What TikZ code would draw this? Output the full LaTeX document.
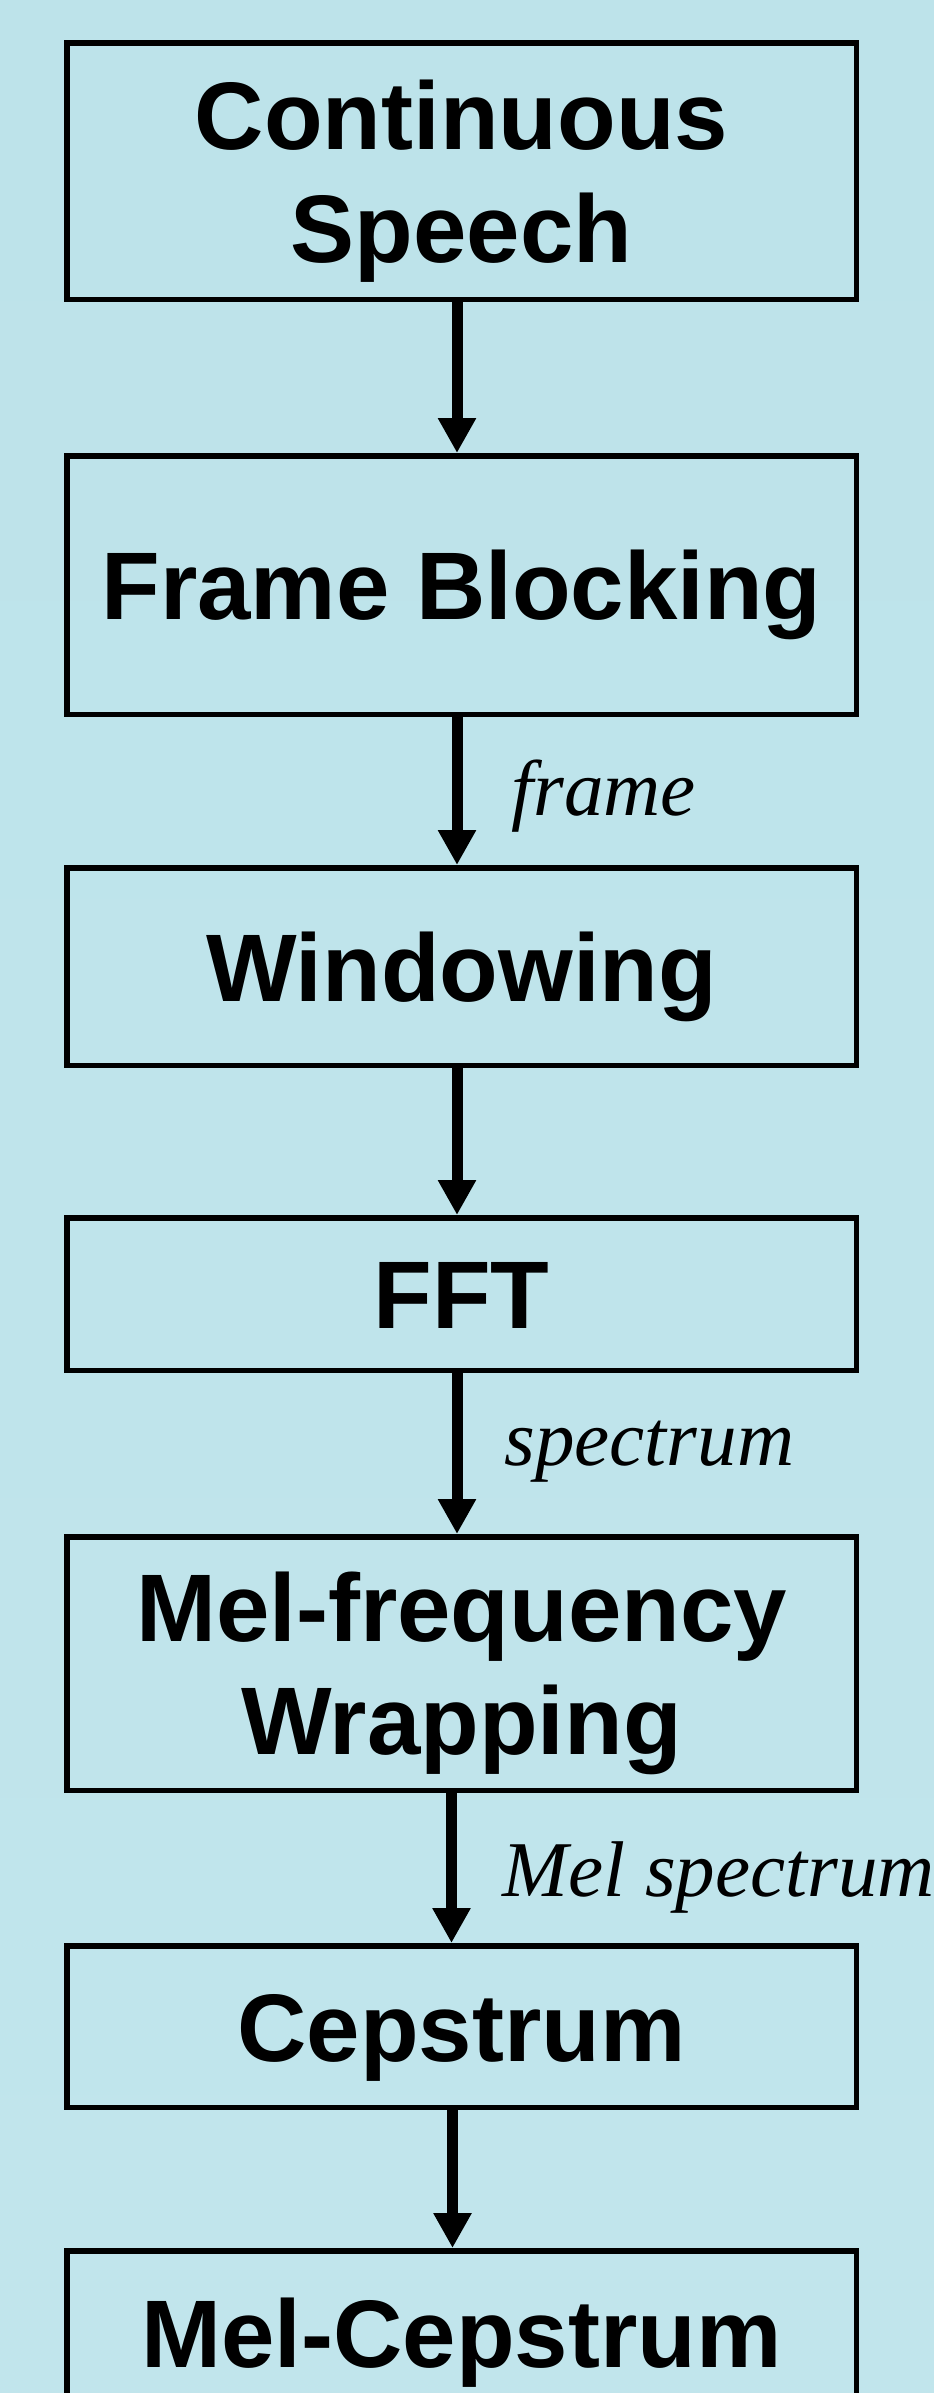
\documentclass[tikz,border=0pt]{standalone}
\usepackage{fontspec}
\setmainfont{Liberation Sans}
\newfontfamily\labelfont{Liberation Serif}
\usetikzlibrary{arrows.meta}
\definecolor{bgtop}{RGB}{189,227,234}
\definecolor{bgmid}{RGB}{178,221,230}
\definecolor{bgbot}{RGB}{193,229,236}
\tikzset{
  stepbox/.style={draw=black, line width=5.5pt, rectangle, inner sep=0pt,
    minimum width=789.5pt, font=\fontsize{96}{113}\selectfont\bfseries,
    text height=69pt, text depth=0pt},
  twoline/.style={text height=, text depth=},
  flow/.style={line width=11pt, -{Triangle[width=36pt,length=35pt]}},
  flowlabel/.style={inner sep=0pt, anchor=base west,
    font=\labelfont\itshape\fontsize{79}{90}\selectfont}
}
\newcommand{\twolines}[2]{\raisebox{0pt}[69pt][113pt]{\begin{tabular}[t]{@{}c@{}}#1\\#2\end{tabular}}}
\begin{document}
\begin{tikzpicture}[x=1pt,y=-1pt]
  \useasboundingbox (0,0) rectangle (934,2393);
  \shade[top color=bgtop, middle color=bgmid, bottom color=bgbot] (0,0) rectangle (934,2393);

  \node[stepbox, twoline, minimum height=256.5pt] (b1) at (461.5,171) {\twolines{Continuous}{Speech}};
  \node[stepbox, minimum height=258.5pt] (b2) at (461.5,585) {Frame Blocking};
  \node[stepbox, minimum height=197.5pt] (b3) at (461.5,966.5) {Windowing};
  \node[stepbox, minimum height=152.5pt] (b4) at (461.5,1294) {FFT};
  \node[stepbox, twoline, minimum height=253.5pt] (b5) at (461.5,1663.5) {\twolines{Mel-frequency}{Wrapping}};
  \node[stepbox, minimum height=161.5pt] (b6) at (461.5,2026.5) {Cepstrum};
  \node[stepbox, minimum height=164.5pt] (b7) at (461.5,2333) {Mel-Cepstrum};

  \draw[flow] ([xshift=-4.5pt]b1.south) -- ([xshift=-4.5pt]b2.north);
  \draw[flow] ([xshift=-4.5pt]b2.south) -- ([xshift=-4.5pt]b3.north)
     node[flowlabel, midway, xshift=49pt, yshift=-24pt] {frame};
  \draw[flow] ([xshift=-4.5pt]b3.south) -- ([xshift=-4.5pt]b4.north);
  \draw[flow] ([xshift=-4.5pt]b4.south) -- ([xshift=-4.5pt]b5.north)
     node[flowlabel, midway, xshift=42pt, yshift=-11.5pt] {spectrum};
  \draw[flow] ([xshift=-10pt]b5.south) -- ([xshift=-10pt]b6.north)
     node[flowlabel, midway, xshift=45.5pt, yshift=-28pt] {Mel spectrum};
  \draw[flow] ([xshift=-9pt]b6.south) -- ([xshift=-9pt]b7.north);
\end{tikzpicture}
\end{document}
